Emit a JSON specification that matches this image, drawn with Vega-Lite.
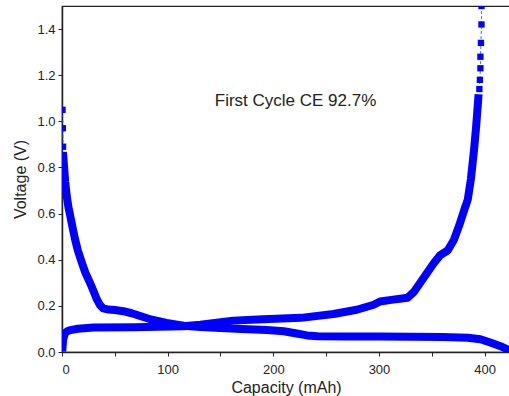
{
  "$schema": "https://vega.github.io/schema/vega-lite/v6.json",
  "width": 448,
  "height": 346,
  "autosize": {"type": "none"},
  "padding": {"left": 62, "top": 6, "right": 0, "bottom": 44},
  "background": "white",
  "config": {
    "view": {"stroke": "#222", "strokeWidth": 1.2},
    "font": "Liberation Sans",
    "axis": {
      "domainColor": "#222", "tickColor": "#222", "labelColor": "#222", "titleColor": "#222",
      "labelFont": "Liberation Sans", "titleFont": "Liberation Sans",
      "labelFontSize": 13, "titleFontSize": 16, "titleFontWeight": "normal", "grid": false
    }
  },
  "datasets": {
    "dense": [
      {"cycle": "discharge", "cap": 1.2, "v": 0.85},
      {"cycle": "discharge", "cap": 2, "v": 0.80},
      {"cycle": "discharge", "cap": 3, "v": 0.74},
      {"cycle": "discharge", "cap": 4.4, "v": 0.68},
      {"cycle": "discharge", "cap": 6, "v": 0.63},
      {"cycle": "discharge", "cap": 7.6, "v": 0.595},
      {"cycle": "discharge", "cap": 10, "v": 0.54},
      {"cycle": "discharge", "cap": 12.3, "v": 0.49},
      {"cycle": "discharge", "cap": 15, "v": 0.44},
      {"cycle": "discharge", "cap": 18.6, "v": 0.39},
      {"cycle": "discharge", "cap": 22, "v": 0.345},
      {"cycle": "discharge", "cap": 26.5, "v": 0.30},
      {"cycle": "discharge", "cap": 30, "v": 0.262},
      {"cycle": "discharge", "cap": 33, "v": 0.228},
      {"cycle": "discharge", "cap": 36, "v": 0.203},
      {"cycle": "discharge", "cap": 39, "v": 0.189},
      {"cycle": "discharge", "cap": 44, "v": 0.184},
      {"cycle": "discharge", "cap": 50, "v": 0.182},
      {"cycle": "discharge", "cap": 58, "v": 0.177},
      {"cycle": "discharge", "cap": 66, "v": 0.168},
      {"cycle": "discharge", "cap": 74, "v": 0.156},
      {"cycle": "discharge", "cap": 85, "v": 0.140},
      {"cycle": "discharge", "cap": 99, "v": 0.126},
      {"cycle": "discharge", "cap": 115, "v": 0.114},
      {"cycle": "discharge", "cap": 131, "v": 0.108},
      {"cycle": "discharge", "cap": 150, "v": 0.104},
      {"cycle": "discharge", "cap": 170, "v": 0.100},
      {"cycle": "discharge", "cap": 194, "v": 0.095},
      {"cycle": "discharge", "cap": 210, "v": 0.090},
      {"cycle": "discharge", "cap": 222, "v": 0.080},
      {"cycle": "discharge", "cap": 232, "v": 0.072},
      {"cycle": "discharge", "cap": 242, "v": 0.068},
      {"cycle": "discharge", "cap": 270, "v": 0.067},
      {"cycle": "discharge", "cap": 300, "v": 0.067},
      {"cycle": "discharge", "cap": 330, "v": 0.066},
      {"cycle": "discharge", "cap": 360, "v": 0.065},
      {"cycle": "discharge", "cap": 384, "v": 0.062},
      {"cycle": "discharge", "cap": 396, "v": 0.055},
      {"cycle": "discharge", "cap": 406, "v": 0.040},
      {"cycle": "discharge", "cap": 415, "v": 0.025},
      {"cycle": "discharge", "cap": 424, "v": 0.006},
      {"cycle": "discharge", "cap": 428, "v": 0.0},
      {"cycle": "charge", "cap": 0.5, "v": 0.02},
      {"cycle": "charge", "cap": 1, "v": 0.05},
      {"cycle": "charge", "cap": 2, "v": 0.07},
      {"cycle": "charge", "cap": 3, "v": 0.082},
      {"cycle": "charge", "cap": 5, "v": 0.09},
      {"cycle": "charge", "cap": 8, "v": 0.095},
      {"cycle": "charge", "cap": 15, "v": 0.101},
      {"cycle": "charge", "cap": 30, "v": 0.106},
      {"cycle": "charge", "cap": 68, "v": 0.107},
      {"cycle": "charge", "cap": 115, "v": 0.112},
      {"cycle": "charge", "cap": 131, "v": 0.118},
      {"cycle": "charge", "cap": 162, "v": 0.136},
      {"cycle": "charge", "cap": 190, "v": 0.142},
      {"cycle": "charge", "cap": 226, "v": 0.148},
      {"cycle": "charge", "cap": 257, "v": 0.165},
      {"cycle": "charge", "cap": 279, "v": 0.183},
      {"cycle": "charge", "cap": 295, "v": 0.205},
      {"cycle": "charge", "cap": 301, "v": 0.219},
      {"cycle": "charge", "cap": 310, "v": 0.225},
      {"cycle": "charge", "cap": 327, "v": 0.235},
      {"cycle": "charge", "cap": 333, "v": 0.26},
      {"cycle": "charge", "cap": 342, "v": 0.32},
      {"cycle": "charge", "cap": 352, "v": 0.386},
      {"cycle": "charge", "cap": 358, "v": 0.42},
      {"cycle": "charge", "cap": 365, "v": 0.44},
      {"cycle": "charge", "cap": 371, "v": 0.487},
      {"cycle": "charge", "cap": 376, "v": 0.55},
      {"cycle": "charge", "cap": 381, "v": 0.62},
      {"cycle": "charge", "cap": 384, "v": 0.66},
      {"cycle": "charge", "cap": 387, "v": 0.75},
      {"cycle": "charge", "cap": 390, "v": 0.878},
      {"cycle": "charge", "cap": 392, "v": 0.98},
      {"cycle": "charge", "cap": 394, "v": 1.10}
    ],
    "sparse": [
      {"cycle": "discharge", "cap": 0.5, "v": 1.05},
      {"cycle": "discharge", "cap": 0.8, "v": 0.97},
      {"cycle": "discharge", "cap": 1.0, "v": 0.89},
      {"cycle": "charge", "cap": 395, "v": 1.14},
      {"cycle": "charge", "cap": 395.5, "v": 1.18},
      {"cycle": "charge", "cap": 396, "v": 1.23},
      {"cycle": "charge", "cap": 396, "v": 1.28},
      {"cycle": "charge", "cap": 396.5, "v": 1.34},
      {"cycle": "charge", "cap": 397, "v": 1.42},
      {"cycle": "charge", "cap": 397, "v": 1.50}
    ],
    "note": [{"cap": 221, "v": 1.09, "label": "First Cycle CE 92.7%"}]
  },
  "layer": [
    {
      "data": {"name": "dense"},
      "mark": {"type": "line", "color": "#0000ff", "strokeWidth": 8, "strokeCap": "square", "strokeJoin": "round", "clip": true},
      "encoding": {
        "x": {"field": "cap", "type": "quantitative", "scale": {"domain": [0, 424], "nice": false},
          "axis": {"title": "Capacity (mAh)", "values": [0,50,100,150,200,250,300,350,400], "labelExpr": "datum.value % 100 === 0 ? datum.label : ''", "tickSize": 4, "labelPadding": 7, "titlePadding": 3, "domainWidth": 1.5}},
        "y": {"field": "v", "type": "quantitative", "scale": {"domain": [0, 1.5], "nice": false},
          "axis": {"title": "Voltage (V)", "values": [0,0.1,0.2,0.3,0.4,0.5,0.6,0.7,0.8,0.9,1.0,1.1,1.2,1.3,1.4], "labelExpr": "round(datum.value*10) % 2 === 0 ? format(datum.value, '.1f') : ''", "tickSize": 4, "labelPadding": 3, "titlePadding": 8, "domainWidth": 1.5}},
        "detail": {"field": "cycle"},
        "order": {"field": "cap"}
      }
    },
    {
      "data": {"name": "sparse"},
      "mark": {"type": "line", "color": "#3344cc", "strokeWidth": 0.8, "strokeDash": [3, 2], "clip": true},
      "encoding": {
        "x": {"field": "cap", "type": "quantitative"},
        "y": {"field": "v", "type": "quantitative"},
        "detail": {"field": "cycle"}
      }
    },
    {
      "data": {"name": "sparse"},
      "mark": {"type": "point", "shape": "square", "filled": true, "color": "#0000ff", "size": 40, "opacity": 1, "clip": true},
      "encoding": {
        "x": {"field": "cap", "type": "quantitative"},
        "y": {"field": "v", "type": "quantitative"}
      }
    },
    {
      "data": {"name": "note"},
      "mark": {"type": "text", "fontSize": 17, "color": "#222", "font": "Liberation Sans"},
      "encoding": {
        "x": {"field": "cap", "type": "quantitative"},
        "y": {"field": "v", "type": "quantitative"},
        "text": {"field": "label"}
      }
    }
  ]
}
